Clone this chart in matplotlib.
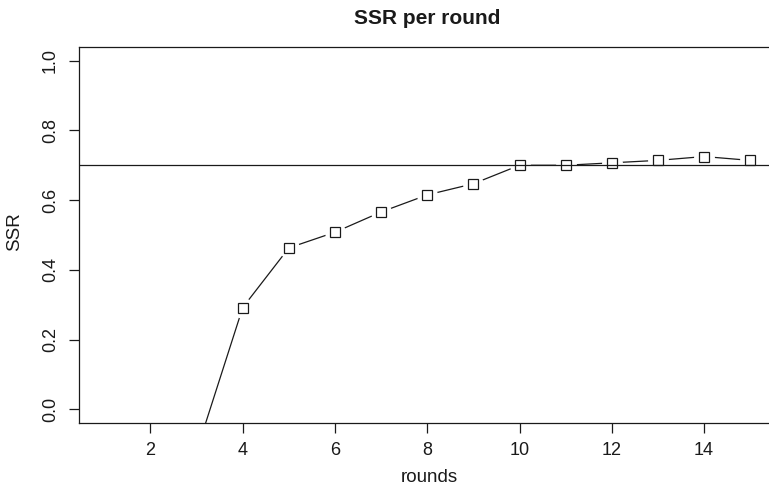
import numpy as np
import matplotlib.pyplot as plt

plt.rcParams['font.family'] = ['Liberation Sans', 'DejaVu Sans']

# SSR per round (rounds 1-3 fall below the plotted range)
rounds = np.arange(1, 16)
ssr = [-0.60, -0.35, -0.12, 0.292, 0.463, 0.508, 0.566, 0.615,
       0.647, 0.700, 0.700, 0.707, 0.714, 0.725, 0.714]
target = 0.7

x_ticks = [2, 4, 6, 8, 10, 12, 14]
y_ticks = [0.0, 0.2, 0.4, 0.6, 0.8, 1.0]

W, H = 769, 488
fig = plt.figure(figsize=(W / 100, H / 100), dpi=100)
ax = fig.add_axes([78.5 / W, (H - 423.3) / H, 697.5 / W, 376.6 / H])

ink = '#1a1a1a'

# line with gaps around points (R type="b" look)
ax.plot(rounds, ssr, color=ink, lw=0.9, zorder=1)
ax.plot(rounds, ssr, ls='none', marker='o', ms=15, mfc='white', mec='none', zorder=2)
ax.axhline(target, color=ink, lw=0.9, zorder=3)
ax.plot(rounds, ssr, ls='none', marker='s', ms=6.8, mfc='none', mec=ink, mew=0.9, zorder=4)

ax.set_xlim(0.44, 15.56)
ax.set_ylim(-0.04, 1.04)
ax.set_xticks(x_ticks)
ax.set_xticklabels([str(t) for t in x_ticks])
ax.set_yticks(y_ticks)
ax.set_yticklabels([f'{t:.1f}' for t in y_ticks], rotation=90, va='center')
ax.tick_params(direction='out', length=7.2, width=0.9, colors=ink, labelsize=13)
ax.tick_params(axis='x', pad=6)
ax.tick_params(axis='y', pad=7)

for side in ['left', 'bottom', 'top', 'right']:
    ax.spines[side].set_linewidth(0.9)
    ax.spines[side].set_color(ink)

fig.text(429.5 / W, 1 - 477 / H, 'rounds', ha='center', va='center',
         fontsize=13.5, color=ink)
fig.text(15 / W, 1 - 232 / H, 'SSR', ha='center', va='center', rotation=90,
         fontsize=13.5, color=ink)
fig.text(427 / W, 1 - 18 / H, 'SSR per round', ha='center', va='center',
         fontsize=15, fontweight='bold', color=ink)

fig.savefig('out.png', dpi=100)
